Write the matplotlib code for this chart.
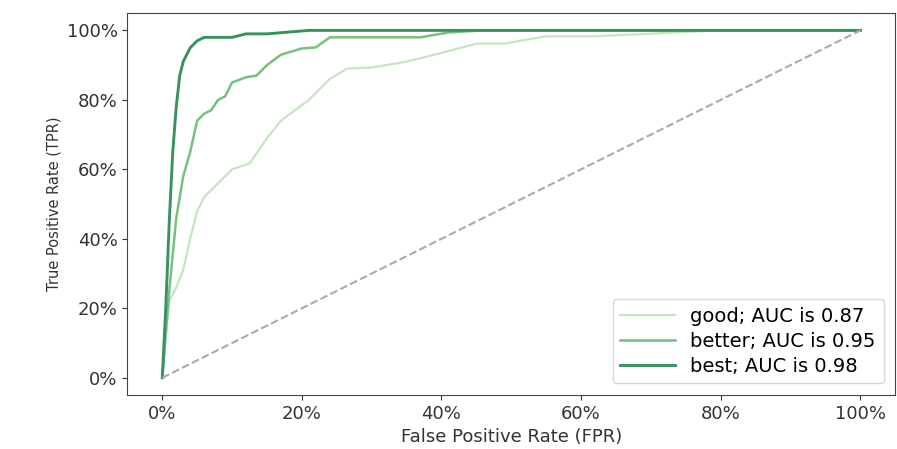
import matplotlib
matplotlib.use("Agg")
import matplotlib.pyplot as plt
from matplotlib.ticker import PercentFormatter

# ROC points (fpr, tpr)
good_fpr = [0, 0.005, 0.01, 0.02, 0.03, 0.04, 0.05, 0.06, 0.07, 0.08, 0.09, 0.10, 0.125, 0.14,
            0.15, 0.17, 0.19, 0.21, 0.24, 0.265, 0.30, 0.35, 0.40, 0.45, 0.49, 0.55, 0.62, 0.80, 1.0]
good_tpr = [0, 0.12, 0.22, 0.26, 0.31, 0.40, 0.48, 0.52, 0.54, 0.56, 0.58, 0.60, 0.617, 0.66,
            0.69, 0.74, 0.77, 0.80, 0.86, 0.89, 0.893, 0.91, 0.935, 0.962, 0.962, 0.983, 0.983, 1.0, 1.0]

better_fpr = [0, 0.01, 0.02, 0.03, 0.04, 0.05, 0.06, 0.07, 0.08, 0.09, 0.10, 0.12, 0.135, 0.15,
              0.17, 0.20, 0.22, 0.24, 0.37, 0.41, 0.46, 1.0]
better_tpr = [0, 0.25, 0.46, 0.58, 0.65, 0.74, 0.76, 0.77, 0.80, 0.81, 0.85, 0.865, 0.87, 0.90,
              0.93, 0.948, 0.951, 0.98, 0.98, 0.994, 1.0, 1.0]

best_fpr = [0, 0.005, 0.01, 0.015, 0.02, 0.025, 0.03, 0.04, 0.05, 0.06, 0.10, 0.12, 0.15, 0.21, 1.0]
best_tpr = [0, 0.20, 0.45, 0.65, 0.78, 0.87, 0.91, 0.95, 0.97, 0.98, 0.98, 0.99, 0.99, 1.0, 1.0]

labels = ["good; AUC is 0.87", "better; AUC is 0.95", "best; AUC is 0.98"]
colors = ["#c5e5c0", "#78c07f", "#3a9160"]

fig, ax = plt.subplots(figsize=(8.97, 4.49), dpi=100)
plt.subplots_adjust(left=0.142, right=0.998, top=0.971, bottom=0.12)

ax.plot(good_fpr, good_tpr, color=colors[0], lw=1.6, label=labels[0])
ax.plot(better_fpr, better_tpr, color=colors[1], lw=1.8, label=labels[1])
ax.plot(best_fpr, best_tpr, color=colors[2], lw=2.1, label=labels[2])
ax.plot([0, 1], [0, 1], ls="--", color="#aaaaaa", lw=1.5)

ax.xaxis.set_major_formatter(PercentFormatter(1, decimals=0))
ax.yaxis.set_major_formatter(PercentFormatter(1, decimals=0))
ax.set_xticks([0, 0.2, 0.4, 0.6, 0.8, 1.0])
ax.set_yticks([0, 0.2, 0.4, 0.6, 0.8, 1.0])
ax.tick_params(labelsize=13, colors="#333333")
for s in ax.spines.values():
    s.set_color("#444444")
ax.set_xlabel("False Positive Rate (FPR)", fontsize=13, color="#333333")
ax.set_ylabel("True Positive Rate (TPR)", fontsize=10.5, color="#333333")
ax.legend(loc="lower right", fontsize=14, handlelength=2.8, labelspacing=0.3,
          borderaxespad=0.6)

fig.savefig("out.png", dpi=100)
